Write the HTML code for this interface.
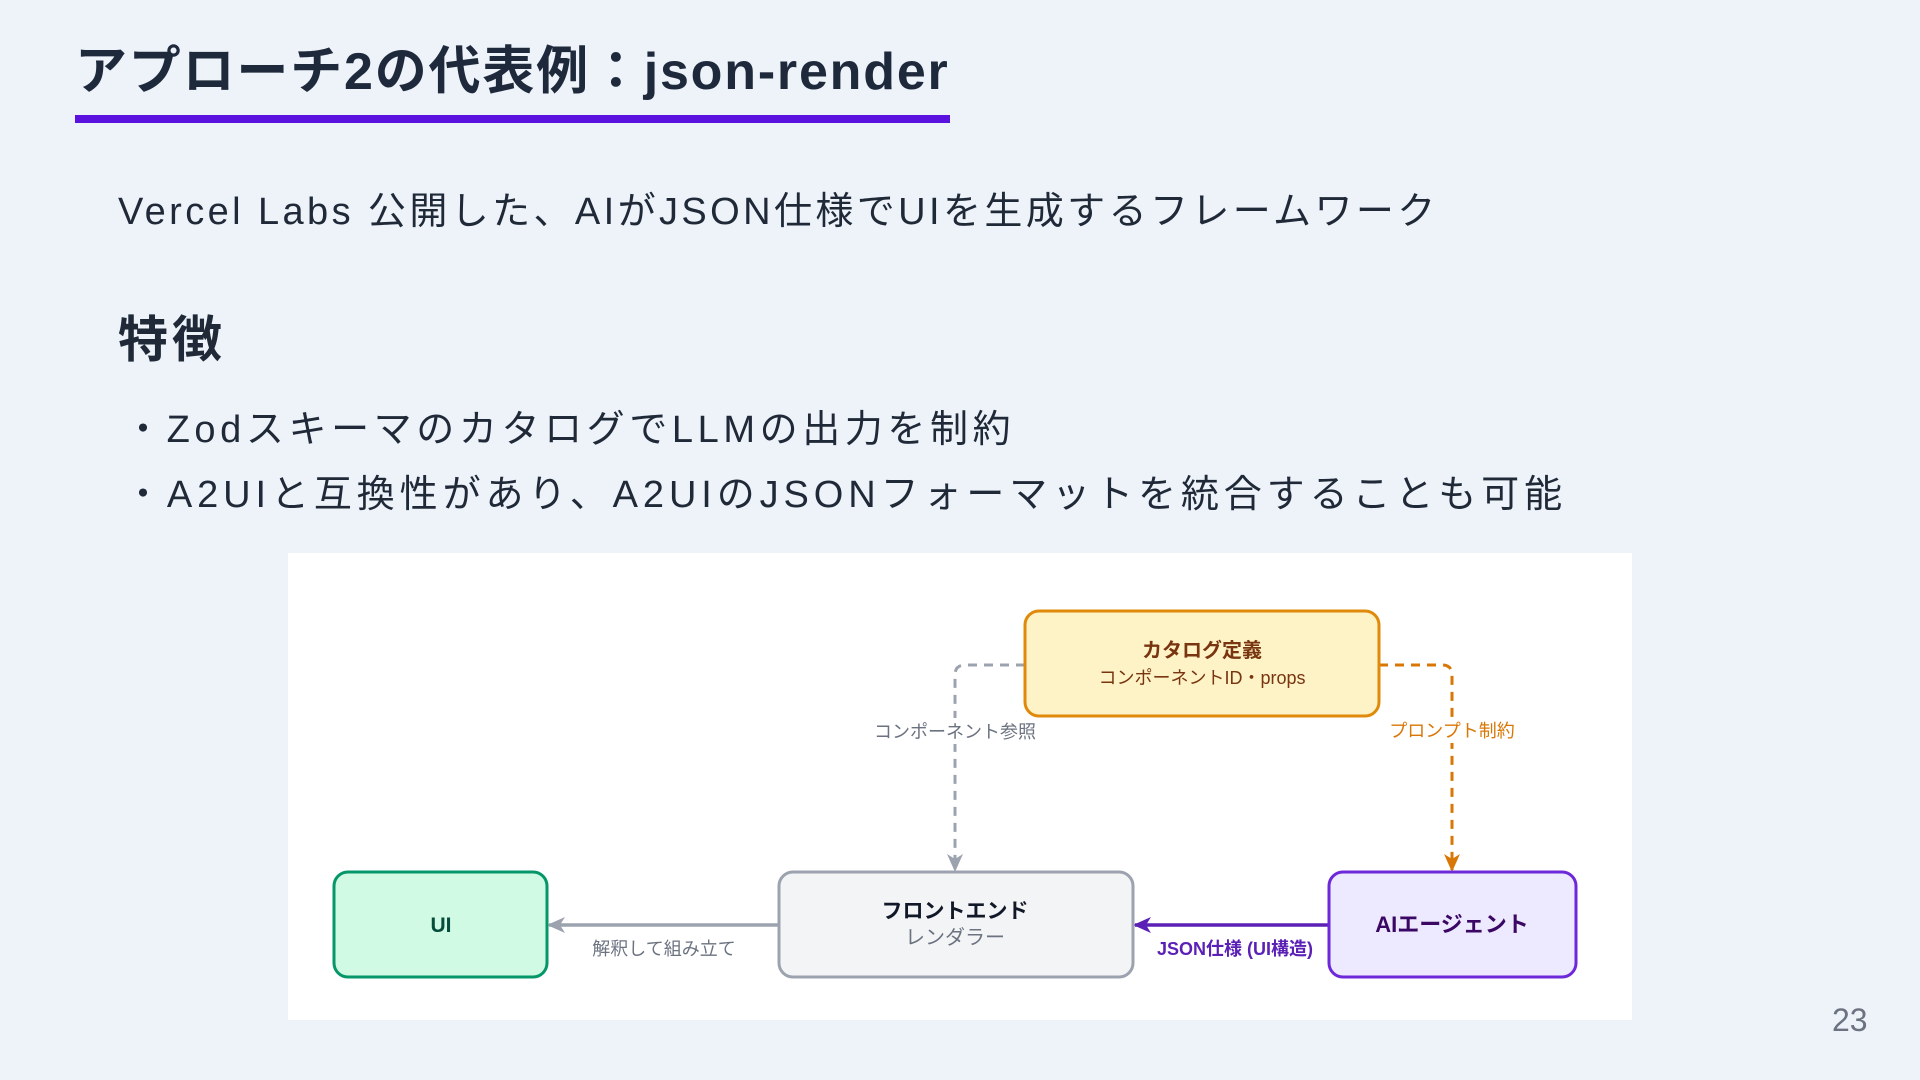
<!DOCTYPE html>
<html><head><meta charset="utf-8">
<style>
html,body{margin:0;padding:0;}
body{width:1920px;height:1080px;background:#eef3fa;position:relative;overflow:hidden;font-family:"Liberation Sans","Noto Sans CJK JP",sans-serif;color:#1f2937;}
.t{position:absolute;white-space:nowrap;}
</style></head><body>
<div class="t" style="left:75px;top:38px;font-size:52px;font-weight:bold;color:#1e293b;line-height:68px;letter-spacing:1.8px;">アプローチ2の代表例：json-render</div>
<div style="position:absolute;left:75px;top:115px;width:875px;height:8px;background:#5b12de;"></div>
<div class="t" style="left:118px;top:187px;font-size:38px;line-height:50px;letter-spacing:3.4px;">Vercel Labs 公開した、AIがJSON仕様でUIを生成するフレームワーク</div>
<div class="t" style="left:118px;top:310px;font-size:50px;font-weight:bold;line-height:60px;letter-spacing:4px;">特徴</div>
<div class="t" style="left:124px;top:405px;font-size:38px;line-height:50px;letter-spacing:4.6px;">・ZodスキーマのカタログでLLMの出力を制約</div>
<div class="t" style="left:124px;top:470px;font-size:38px;line-height:50px;letter-spacing:4.9px;">・A2UIと互換性があり、A2UIのJSONフォーマットを統合することも可能</div>
<div class="t" style="left:1832px;top:1002px;font-size:32px;color:#6b7280;">23</div>
<svg style="position:absolute;left:0;top:0" width="1920" height="1080" font-family="Liberation Sans, Noto Sans CJK JP, sans-serif">
<defs>
<marker id="ag" markerWidth="18" markerHeight="16" refX="16" refY="8" orient="auto" markerUnits="userSpaceOnUse"><path d="M0,0 L18,8 L0,16 L5,8 Z" fill="#9ca3af"/></marker>
<marker id="ao" markerWidth="18" markerHeight="16" refX="16" refY="8" orient="auto" markerUnits="userSpaceOnUse"><path d="M0,0 L18,8 L0,16 L5,8 Z" fill="#d97706"/></marker>
<marker id="ap" markerWidth="18" markerHeight="16" refX="16" refY="8" orient="auto" markerUnits="userSpaceOnUse"><path d="M0,0 L18,8 L0,16 L5,8 Z" fill="#5b21b6"/></marker>
</defs>
<rect x="288" y="553" width="1344" height="467" fill="#ffffff"/>
<path d="M1025,665 L965,665 Q955,665 955,675 L955,870" fill="none" stroke="#9ca3af" stroke-width="3" stroke-dasharray="9,7" marker-end="url(#ag)"/>
<path d="M1379,665 L1442,665 Q1452,665 1452,675 L1452,870" fill="none" stroke="#d97706" stroke-width="3" stroke-dasharray="9,7" marker-end="url(#ao)"/>
<path d="M779,925 L549,925" fill="none" stroke="#9ca3af" stroke-width="3.5" marker-end="url(#ag)"/>
<path d="M1329,925 L1135,925" fill="none" stroke="#5b21b6" stroke-width="3.5" marker-end="url(#ap)"/>
<rect x="862" y="718" width="186" height="26" fill="#fff"/>
<text x="955" y="738" font-size="18" fill="#6b7280" text-anchor="middle">コンポーネント参照</text>
<rect x="1380" y="717" width="144" height="26" fill="#fff"/>
<text x="1452" y="737" font-size="18" fill="#d97706" text-anchor="middle">プロンプト制約</text>
<text x="664" y="955" font-size="18" fill="#6b7280" text-anchor="middle">解釈して組み立て</text>
<text x="1235" y="955" font-size="18" fill="#5b21b6" font-weight="bold" text-anchor="middle">JSON仕様 (UI構造)</text>
<rect x="1025" y="611" width="354" height="105" rx="14" fill="#fef3c7" stroke="#e08a0b" stroke-width="3"/>
<text x="1202" y="657" font-size="20" font-weight="bold" fill="#78350f" text-anchor="middle">カタログ定義</text>
<text x="1202" y="684" font-size="18" fill="#78350f" text-anchor="middle">コンポーネントID・props</text>
<rect x="334" y="872" width="213" height="105" rx="14" fill="#d1fae5" stroke="#059669" stroke-width="3"/>
<text x="441" y="932" font-size="21" font-weight="bold" fill="#064e3b" text-anchor="middle">UI</text>
<rect x="779" y="872" width="354" height="105" rx="14" fill="#f3f4f6" stroke="#9ca3af" stroke-width="3"/>
<text x="955" y="918" font-size="21" font-weight="bold" fill="#111827" text-anchor="middle">フロントエンド</text>
<text x="955" y="944" font-size="20" fill="#6b7280" text-anchor="middle">レンダラー</text>
<rect x="1329" y="872" width="247" height="105" rx="14" fill="#ede9fe" stroke="#6d28d9" stroke-width="3"/>
<text x="1452" y="932" font-size="22" font-weight="bold" fill="#3b0764" text-anchor="middle">AIエージェント</text>
</svg>
</body></html>
